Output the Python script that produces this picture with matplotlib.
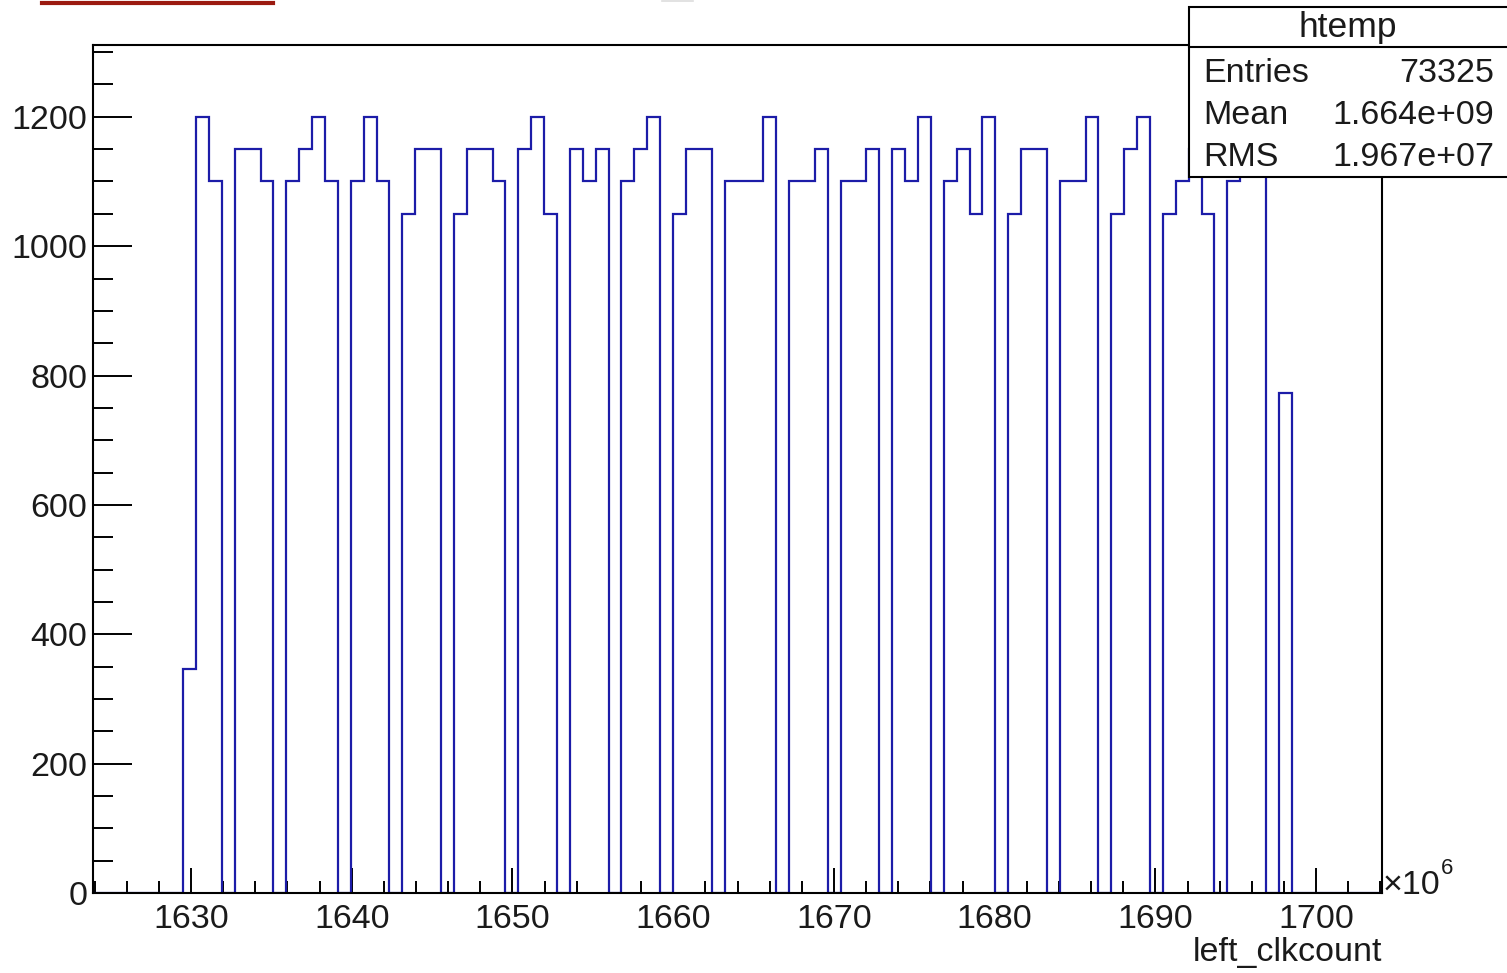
import numpy as np
import matplotlib.pyplot as plt
from matplotlib.patches import Rectangle
from matplotlib.lines import Line2D
from matplotlib.ticker import MultipleLocator

# htemp: left_clkcount (units of 1e6), 100 bins
x_lo = 1623.9
x_hi = 1704.1
n_bins = 100
counts = [0, 0, 0, 0, 0, 0, 0, 346, 1200, 1100,
          0, 1150, 1150, 1100, 0, 1100, 1150, 1200, 1100, 0,
          1100, 1200, 1100, 0, 1050, 1150, 1150, 0, 1050, 1150,
          1150, 1100, 0, 1150, 1200, 1050, 0, 1150, 1100, 1150,
          0, 1100, 1150, 1200, 0, 1050, 1150, 1150, 0, 1100,
          1100, 1100, 1200, 0, 1100, 1100, 1150, 0, 1100, 1100,
          1150, 0, 1150, 1100, 1200, 0, 1100, 1150, 1050, 1200,
          0, 1050, 1150, 1150, 0, 1100, 1100, 1200, 0, 1050,
          1150, 1200, 0, 1050, 1100, 1150, 1050, 0, 1100, 1150,
          1200, 0, 773, 0, 0, 0, 0, 0, 0, 0]
y_top = 1311

stat_names = ['Entries', 'Mean', 'RMS']
stat_values = ['73325', '1.664e+09', '1.967e+07']

plt.rcParams['font.family'] = ['Liberation Sans', 'DejaVu Sans']
FS = 24.5
TXT = '#1a1a1a'

W, H = 1507, 973
fig = plt.figure(figsize=(W / 100, H / 100), dpi=100)


def fx(x):
    return x / W


def fy(y):
    return 1 - y / H


ax = fig.add_axes([fx(93), fy(893), fx(1382) - fx(93), fy(45) - fy(893)])
edges = np.linspace(x_lo, x_hi, n_bins + 1)
ax.stairs(counts, edges, baseline=0, color='#1c1ca8', lw=1.6, zorder=2)
ax.set_xlim(x_lo, x_hi)
ax.set_ylim(0, y_top)

for s in ax.spines.values():
    s.set_linewidth(1.5)
    s.set_zorder(3)

ax.xaxis.set_major_locator(MultipleLocator(10))
ax.xaxis.set_minor_locator(MultipleLocator(2))
ax.yaxis.set_major_locator(MultipleLocator(200))
ax.yaxis.set_minor_locator(MultipleLocator(50))
ax.tick_params(axis='x', which='major', direction='in', length=18, width=1.4,
               labelsize=FS, pad=8, top=False)
ax.tick_params(axis='x', which='minor', direction='in', length=8.6, width=1.4, top=False)
ax.tick_params(axis='y', which='major', direction='in', length=28, width=1.4,
               labelsize=FS, pad=4, right=False)
ax.tick_params(axis='y', which='minor', direction='in', length=14.4, width=1.4, right=False)
for lab in ax.get_xticklabels() + ax.get_yticklabels():
    lab.set_color(TXT)

fig.text(fx(1382), fy(953), 'left_clkcount', ha='right', va='center',
         fontsize=FS, color=TXT)
fig.text(fx(1383), fy(885), '\u00d710', ha='left', va='center',
         fontsize=FS, color=TXT)
fig.text(fx(1441), fy(869), '6', ha='left', va='center',
         fontsize=16, color=TXT)

# stats box
fig.add_artist(Rectangle((fx(1189), fy(177)), fx(1520) - fx(1189), fy(7) - fy(177),
                         transform=fig.transFigure, facecolor='white',
                         edgecolor='black', lw=1.5, zorder=5))
fig.add_artist(Line2D([fx(1189), fx(1510)], [fy(47), fy(47)],
                      transform=fig.transFigure, color='black', lw=1.5, zorder=6))
fig.text(fx(1348), fy(28), 'htemp', ha='center', va='center', fontsize=25.5,
         color=TXT, zorder=7)
for i, (name, val) in enumerate(zip(stat_names, stat_values)):
    yy = fy(73 + 42 * i)
    fig.text(fx(1203), yy, name, ha='left', va='center', fontsize=FS,
             color=TXT, zorder=7)
    fig.text(fx(1494), yy, val, ha='right', va='center', fontsize=FS,
             color=TXT, zorder=7)

# bits of the canvas border along the top
fig.add_artist(Line2D([fx(42), fx(273)], [fy(3), fy(3)], transform=fig.transFigure,
                      color='#9b1a10', lw=3))
fig.add_artist(Line2D([fx(662), fx(693)], [fy(0.5), fy(0.5)], transform=fig.transFigure,
                      color='#dddddd', lw=1.2))

fig.savefig('out.png', dpi=100, facecolor='white')
